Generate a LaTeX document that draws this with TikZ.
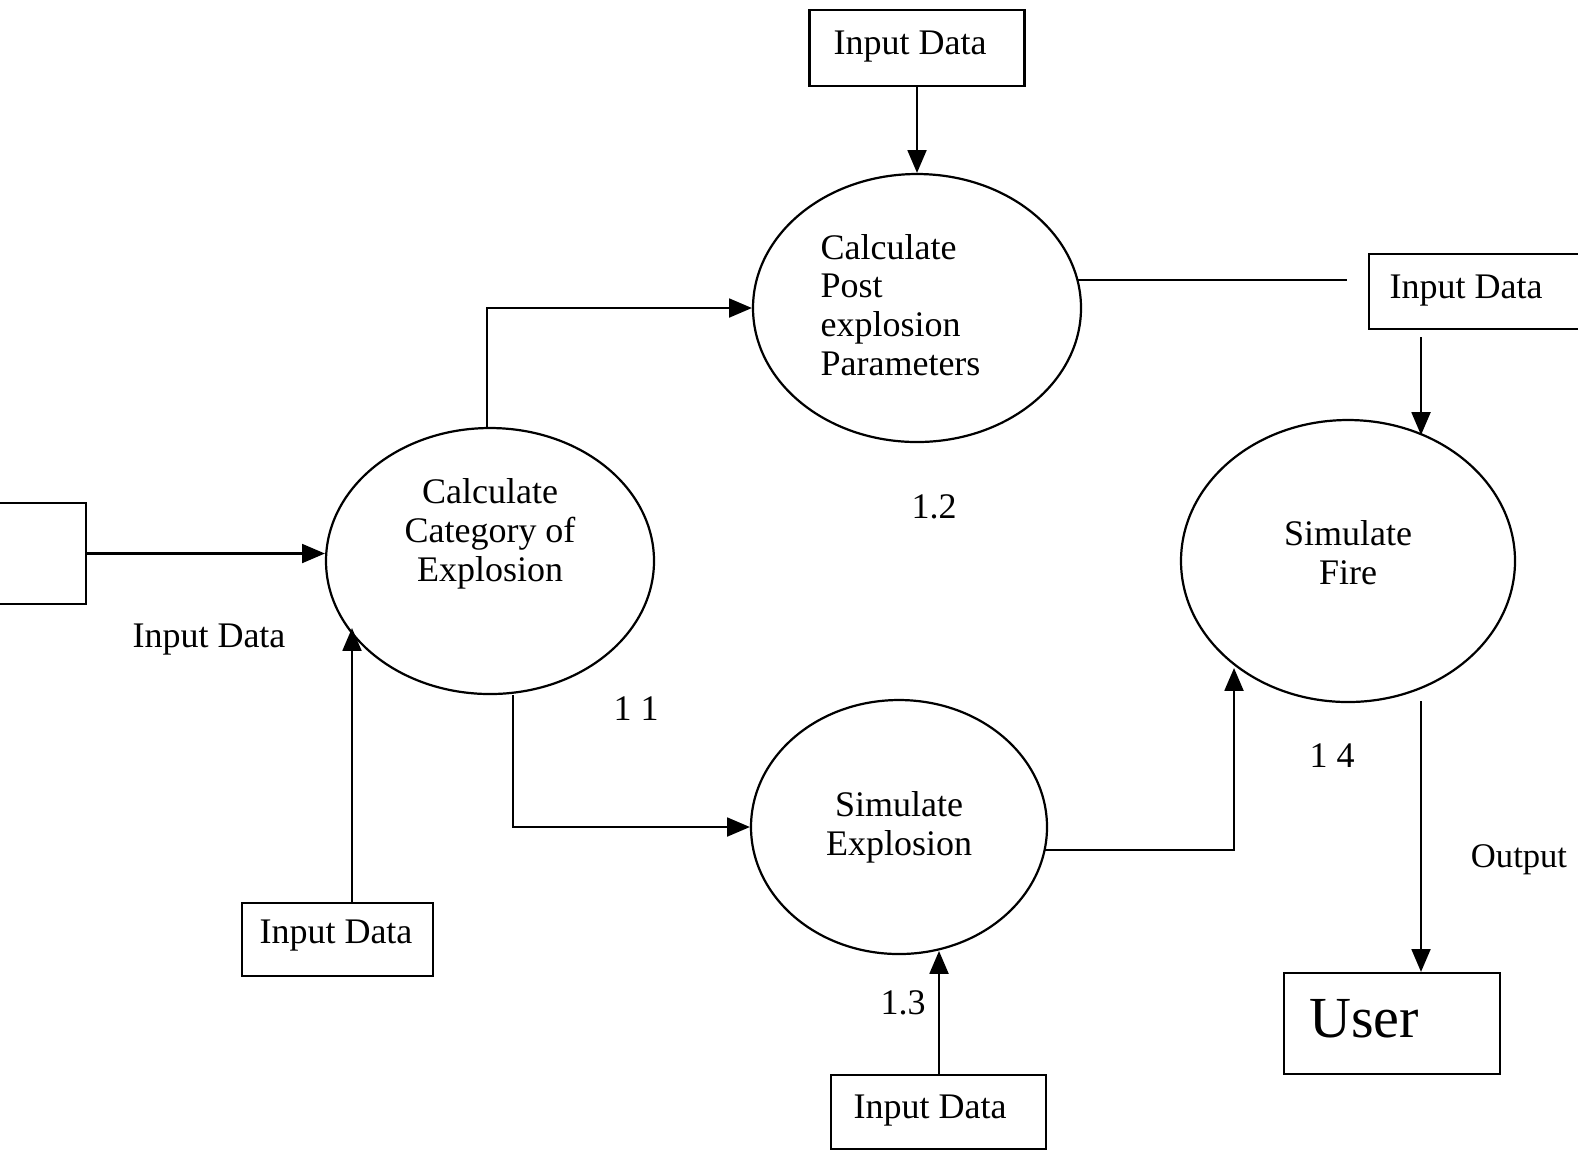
\documentclass[tikz,border=0pt]{standalone}
\usepackage{fontspec}
\setmainfont{Liberation Serif}
\usetikzlibrary{arrows.meta,shapes.geometric,calc}
\def\U{0.0127cm}
\begin{document}
\begin{tikzpicture}[x=0.0127cm,y=-0.0127cm,
  lw/.style={line width=0.8pt},
  proc/.style={ellipse,draw,lw,inner sep=0pt},
  box/.style={rectangle,draw,lw,inner sep=0pt},
  txt/.style={font=\fontsize{13}{14}\selectfont,align=center,inner sep=0pt},
  flow/.style={lw,-{Triangle[length=0.29cm,width=0.24cm]}},
  ]
\useasboundingbox (0,0) rectangle (1578,1150);
% processes
\node[proc,minimum width=328*\U,minimum height=266*\U] (e1) at (490,561) {};
\node[txt] (e1t) at (490,534) {Calculate\\Category of\\Explosion};
\node[proc,minimum width=328*\U,minimum height=268*\U] (e2) at (917,308) {};
\node[txt,align=left,anchor=west] (e2t) at (820,305) {Calculate\\Post\\explosion\\Parameters};
\node[proc,txt,minimum width=296*\U,minimum height=254*\U] (e3) at (899,827) {Simulate\\Explosion};
\node[proc,minimum width=334*\U,minimum height=282*\U] (e4) at (1348,561) {};
\node[txt] (e4t) at (1348,553) {Simulate\\Fire};
% boxes
\node[box,minimum width=215*\U,minimum height=76*\U] (ib1) at (917,48) {};
\node[txt] (ib1t) at (910,47) {Input Data};
\node[box,minimum width=240*\U,minimum height=75*\U] (ib2) at (1489,291.5) {};
\node[txt] (ib2t) at (1466,291) {Input Data};
\node[box,minimum width=100*\U,minimum height=101*\U] (src) at (36,553.5) {};
\node[box,minimum width=191*\U,minimum height=73*\U] (ib3) at (337.5,939.5) {};
\node[txt] (ib3t) at (336,936) {Input Data};
\node[box,minimum width=215*\U,minimum height=74*\U] (ib4) at (938.5,1112) {};
\node[txt] (ib4t) at (930,1111) {Input Data};
\node[box,minimum width=216*\U,minimum height=101*\U] (user) at (1392,1023.5) {};
\node[font=\fontsize{21}{24}\selectfont,inner sep=0pt] (usert) at (1364,1019) {User};
% labels
\node[txt] (l1) at (209,640) {Input Data};
\node[txt] (n11) at (636,709) {1 1};
\node[txt] (n12) at (934,507) {1.2};
\node[txt] (n13) at (903,1003) {1.3};
\node[txt] (n14) at (1332,756) {1 4};
\node[font=\fontsize{12.5}{14}\selectfont,inner sep=0pt] (out) at (1519,860) {Output};
% coordinates
\coordinate (c0) at (487,429);
\coordinate (c3) at (352,628);
\coordinate (c1) at (513,695);
\coordinate (c2a) at (1045,850);
\coordinate (c2b) at (1234,668);
\coordinate (c4) at (939,951);
\coordinate (c5) at (1421,701);
\coordinate (c6a) at (1421,337);
\coordinate (c6b) at (1421,435);
\coordinate (c7a) at (1078,280);
\coordinate (c7b) at (1347,280);
% connectors
\draw[flow] (ib1.south) -- (e2.north);
\draw[flow] (c0) |- (e2.west);
\draw[flow] (src.east) -- (src.east -| e1.west);
\draw[flow] (ib3.north -| c3) -- (c3);
\draw[flow] (c1) |- (e3.west);
\draw[flow] (c2a) -| (c2b);
\draw[flow] (ib4.north -| c4) -- (c4);
\draw[flow] (c5) -- (c5 |- user.north);
\draw[flow] (c6a) -- (c6b);
\draw[lw] (c7a) -- (c7b);
\end{tikzpicture}
\end{document}
